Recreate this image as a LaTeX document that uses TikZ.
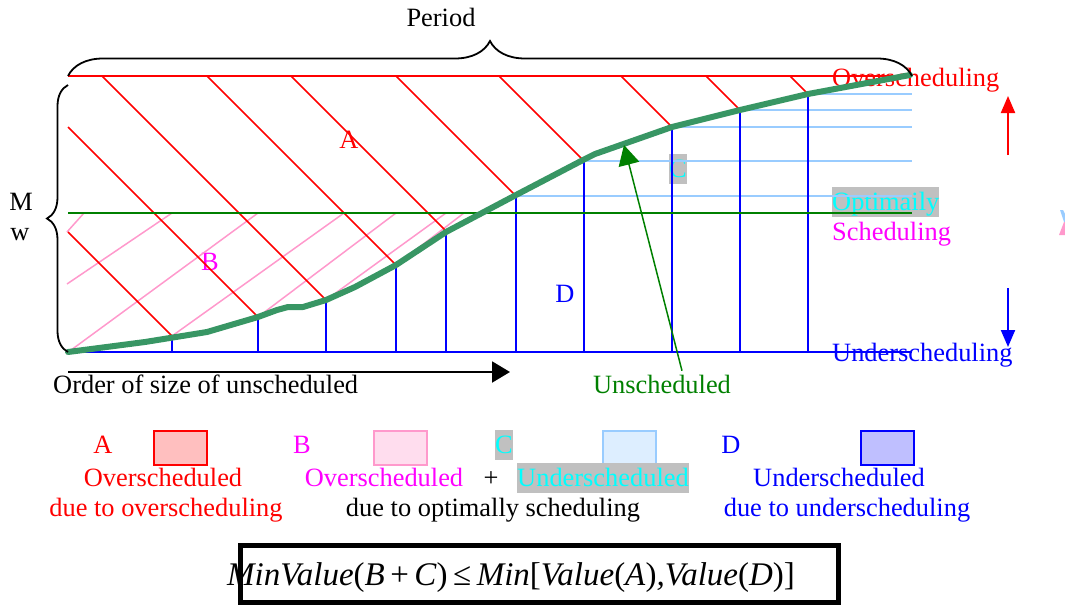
\documentclass[tikz,border=0pt]{standalone}
\usepackage{fontspec}
\setmainfont{Liberation Serif}
\usetikzlibrary{arrows.meta,decorations.pathreplacing}

\definecolor{krzywa}{RGB}{56,150,100}
\definecolor{zielony}{RGB}{0,128,0}
\definecolor{purpurowy}{RGB}{255,0,255}
\definecolor{turkusowy}{RGB}{0,255,255}
\definecolor{jasnoniebieski}{RGB}{153,204,255}
\definecolor{rozowy}{RGB}{255,153,204}
\definecolor{szary}{RGB}{192,192,192}
\definecolor{wypelnA}{RGB}{255,191,191}
\definecolor{wypelnB}{RGB}{255,221,238}
\definecolor{wypelnC}{RGB}{221,238,255}
\definecolor{wypelnD}{RGB}{191,191,255}

\tikzset{
    txt/.style={font=\fontsize{26.4}{30}\selectfont, inner sep=0pt, text height=22pt, text depth=8pt},
    greybg/.style={txt, fill=szary, text=turkusowy, text height=23pt, text depth=7pt},
    hatchA/.style={red, line width=1.7pt},
    hatchB/.style={rozowy, line width=1.5pt},
    hatchC/.style={jasnoniebieski, line width=2pt},
    barD/.style={blue, line width=2.2pt},
    legendbox/.style={line width=2pt, minimum width=53pt, minimum height=34pt, inner sep=0pt},
}

\begin{document}
\begin{tikzpicture}[x=1pt, y=-1pt]
    \useasboundingbox (0,0) rectangle (1065,605);

    % Opisy poziomow po prawej stronie
    \node[txt, red, anchor=base west] (over) at (832,86) {Overscheduling};
    \node[greybg, anchor=base west] (opt) at (832,210) {Optimaily};
    \node[txt, purpurowy, anchor=base west] (sched) at (832,240) {Scheduling};
    \node[txt, blue, anchor=base west] (under) at (832,361) {Underscheduling};

    % Litery obszarow
    \node[txt, red, anchor=base] (lblA) at (349,148) {A};
    \node[txt, purpurowy, anchor=base] (lblB) at (210,270) {B};
    \node[greybg, anchor=base] (lblC) at (678,177) {C};
    \node[txt, blue, anchor=base] (lblD) at (565,302) {D};
    \node[txt, anchor=base] (period) at (441,27) {Period};
    \node[txt, anchor=base] (lblM) at (21,210) {M};
    \node[txt, anchor=base] (lblw) at (20,240) {w};

    % Kreskowanie B (rozowe)
    \foreach \a/\b/\c in {67/232/84, 67/284/172, 67/353/258, 172/336/344, 258/317/396, 326/300/446, 396/265/464}
        \draw[hatchB] (\a,\b) -- (\c,213);

    % Kreskowanie C (jasnoniebieskie)
    \foreach \x/\y in {516/196, 584/161, 672/127, 740/110, 808/94}
        \draw[hatchC] (\x,\y) -- (912,\y);

    % Ukosne kreski A i pionowe kreski D - wierzcholki na krzywej
    \foreach \x/\y in {172/336, 258/317, 326/300, 396/265, 446/231, 516/196, 584/161, 672/127, 740/110, 808/94} {
        \pgfmathsetmacro{\xs}{max(68, \x-\y+76)}
        \pgfmathsetmacro{\ys}{\y-\x+\xs}
        \draw[hatchA] (\xs,\ys) -- (\x,\y);
        \draw[barD] (\x,352) -- (\x,\y);
    }

    % Poziomy: nadmiar, optimum, niedomiar
    \draw[red, line width=2pt] (68,76) -- (912,76);
    \draw[zielony, line width=2pt] (68,213) -- (912,213);
    \draw[blue, line width=2pt] (68,352) -- (912,352);

    % Krzywa niezaplanowanych
    \draw[krzywa, line width=6pt, line join=round, line cap=round] plot coordinates {
        (68,352) (145,342) (207,332) (258,317) (277,310) (288,307) (303,307) (326,300)
        (355,287) (396,265) (446,232) (516,195) (583,160) (595,154) (672,127)
        (740,110) (808,94) (910,75)};

    % Klamry
    \draw[line width=1.8pt, decorate, decoration={brace, amplitude=35pt}] (68,76) -- (912,76);
    \draw[line width=1.8pt, decorate, decoration={brace, amplitude=21pt}] (68,352) -- (68,85);

    % Strzalki
    \node[txt, zielony, anchor=base] (unsched) at (662,393) {Unscheduled};
    \coordinate (tip) at (624,145);
    \draw[zielony, line width=1.5pt, -{Triangle[length=20pt, width=21pt]}] ([xshift=20pt]unsched.north) -- (tip);

    \node[txt, anchor=base west] (order) at (53,393) {Order of size of unscheduled};
    \coordinate (ord0) at (68,372);
    \coordinate (ord1) at (510,372);
    \draw[line width=2pt, -{Triangle[length=18pt, width=21pt]}] (ord0) -- (ord1);

    \coordinate (up0) at (1008,155);
    \coordinate (up1) at (1008,96);
    \draw[red, line width=2pt, -{Triangle[length=17pt, width=14pt]}] (up0) -- (up1);
    \coordinate (dn0) at (1008,288);
    \coordinate (dn1) at (1008,347);
    \draw[blue, line width=2pt, -{Triangle[length=17pt, width=14pt]}] (dn0) -- (dn1);

    % Uciety znak przy prawej krawedzi
    \fill[jasnoniebieski] (1060,210) -- (1063,210) -- (1065,214) -- (1065,222) -- (1064,222) -- cycle;
    \fill[rozowy] (1064,222) -- (1065,222) -- (1065,235) -- (1059,235) -- cycle;

    % Legenda
    \node[txt, red, anchor=base] (legA) at (103,453) {A};
    \node[legendbox, draw=red, fill=wypelnA] (boxA) at (180.5,448) {};
    \node[txt, purpurowy, anchor=base] (legB) at (302,453) {B};
    \node[legendbox, draw=rozowy, fill=wypelnB] (boxB) at (400.5,448) {};
    \node[greybg, anchor=base] (legC) at (504,453) {C};
    \node[legendbox, draw=jasnoniebieski, fill=wypelnC] (boxC) at (629,448) {};
    \node[txt, blue, anchor=base] (legD) at (731,453) {D};
    \node[legendbox, draw=blue, fill=wypelnD] (boxD) at (887,448) {};

    \node[txt, red, anchor=base] (overA) at (163,486) {Overscheduled};
    \node[txt, red, anchor=base] (dueA) at (166,516) {due to overscheduling};
    \node[txt, purpurowy, anchor=base] (overB) at (384,486) {Overscheduled};
    \node[txt, anchor=base] (plus) at (491,486) {+};
    \node[greybg, anchor=base] (underC) at (603,486) {Underscheduled};
    \node[txt, anchor=base] (dueBC) at (493,516) {due to optimally scheduling};
    \node[txt, blue, anchor=base] (underD) at (839,486) {Underscheduled};
    \node[txt, blue, anchor=base] (dueD) at (847,516) {due to underscheduling};

    % Wzor w ramce
    \node[draw, line width=5pt, minimum width=598pt, minimum height=57pt, inner sep=0pt] (fbox) at (539,574) {};
    \node[anchor=base, inner sep=0pt, font=\fontsize{33}{40}\selectfont\itshape] (formula) at (511,585)
        {MinValue\textup{(}B\textup{\,+\,}C\textup{)\,≤\,}Min\textup{[}Value\textup{(}A\textup{)},Value\textup{(}D\textup{)]}};
\end{tikzpicture}
\end{document}
